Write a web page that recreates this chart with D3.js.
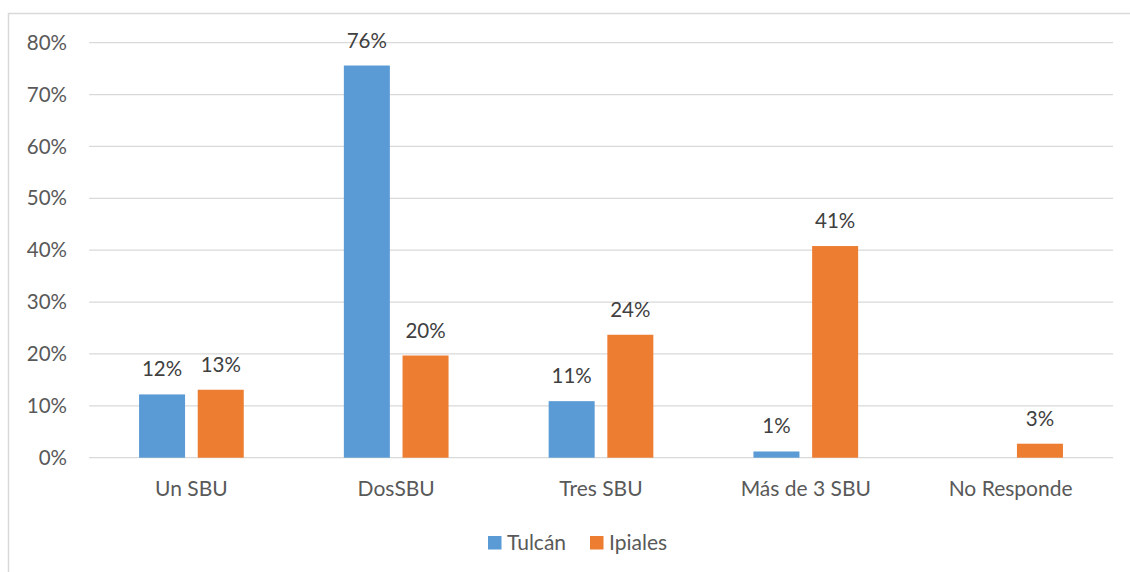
<!doctype html>
<html lang="es">
<head>
<meta charset="utf-8">
<title>SBU Tulcán / Ipiales</title>
<script src="https://unpkg.com/d3@7/dist/d3.min.js"></script>
<style>
  body { margin: 0; background: #fff; }
  svg text { font-family: Lato, "Open Sans", sans-serif; }
</style>
</head>
<body>
<svg id="chart" width="1130" height="572"></svg>
<script>
  // datos
  var categories = ["Un SBU", "DosSBU", "Tres SBU", "Más de 3 SBU", "No Responde"];
  var seriesNames = ["Tulcán", "Ipiales"];
  var tulcan = [0.122, 0.756, 0.109, 0.012, 0];
  var ipiales = [0.131, 0.197, 0.237, 0.408, 0.027];
  var tulcanLabels = ["12%", "76%", "11%", "1%", ""];
  var ipialesLabels = ["13%", "20%", "24%", "41%", "3%"];
  var yTicks = [0, 0.1, 0.2, 0.3, 0.4, 0.5, 0.6, 0.7, 0.8];
  var colors = ["#5B9BD5", "#ED7D31"];

  var svg = d3.select("#chart");

  // marco
  svg.append("rect")
    .attr("x", 8.5).attr("y", 13.5)
    .attr("width", 1140).attr("height", 580)
    .attr("fill", "none").attr("stroke", "#D9D9D9").attr("stroke-width", 1.5);

  var plotLeft = 89, plotRight = 1113, plotTop = 42.7, plotBottom = 457.7;

  var x = d3.scaleBand().domain(categories).range([plotLeft, plotRight]);
  var y = d3.scaleLinear().domain([0, 0.8]).range([plotBottom, plotTop]);
  var xs = d3.scaleBand().domain(seriesNames).range([0, x.bandwidth()]).paddingInner(0.216).paddingOuter(0.853);

  // rejilla
  svg.append("g").selectAll("line")
    .data(yTicks).enter().append("line")
    .attr("x1", plotLeft).attr("x2", plotRight)
    .attr("y1", function (d) { return y(d); })
    .attr("y2", function (d) { return y(d); })
    .attr("stroke", "#D9D9D9").attr("stroke-width", 1.3);

  var yAxis = d3.axisLeft(y).tickValues(yTicks).tickFormat(d3.format(".0%")).tickSize(0).tickPadding(0);
  svg.append("g")
    .attr("transform", "translate(67,0)")
    .call(yAxis)
    .call(function (g) { g.select(".domain").remove(); })
    .selectAll("text")
    .attr("fill", "#595959").style("font-size", "20.5px");

  var xAxis = d3.axisBottom(x).tickSize(0).tickPadding(0);
  svg.append("g")
    .attr("transform", "translate(0,481)")
    .call(xAxis)
    .call(function (g) { g.select(".domain").remove(); })
    .selectAll("text")
    .attr("fill", "#595959").style("font-size", "21px");

  var series = [
    { name: seriesNames[0], values: tulcan, labels: tulcanLabels, color: colors[0] },
    { name: seriesNames[1], values: ipiales, labels: ipialesLabels, color: colors[1] }
  ];

  series.forEach(function (s) {
    var g = svg.append("g");
    g.selectAll("rect")
      .data(categories).enter().append("rect")
      .attr("x", function (d) { return x(d) + xs(s.name); })
      .attr("width", xs.bandwidth())
      .attr("y", function (d, i) { return y(s.values[i]); })
      .attr("height", function (d, i) { return plotBottom - y(s.values[i]); })
      .attr("fill", s.color);

    g.selectAll("text")
      .data(categories).enter().append("text")
      .attr("x", function (d) { return x(d) + xs(s.name) + xs.bandwidth() / 2; })
      .attr("y", function (d, i) { return y(s.values[i]) - 18; })
      .attr("text-anchor", "middle")
      .attr("fill", "#404040")
      .style("font-size", "20.5px")
      .text(function (d, i) { return s.labels[i]; });
  });

  // leyenda
  var legendX = [488, 590];
  var legend = svg.append("g").selectAll("g")
    .data(series).enter().append("g")
    .attr("transform", function (d, i) { return "translate(" + legendX[i] + ",536)"; });
  legend.append("rect").attr("width", 13.5).attr("height", 13.5)
    .attr("fill", function (d) { return d.color; });
  legend.append("text").attr("x", 19).attr("y", 14)
    .attr("fill", "#595959").style("font-size", "21px")
    .text(function (d) { return d.name; });
</script>
</body>
</html>
